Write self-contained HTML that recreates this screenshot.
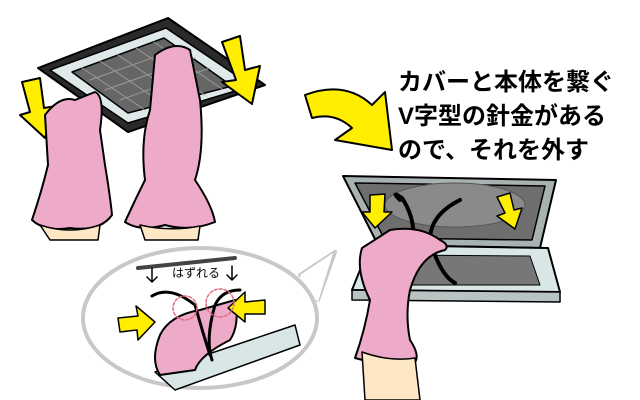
<!DOCTYPE html>
<html><head><meta charset="utf-8"><style>
body{margin:0;background:#fff;}
svg{display:block}
text{font-family:"Liberation Sans","Noto Sans CJK JP",sans-serif;}
</style></head><body>
<svg width="640" height="400" viewBox="0 0 640 400" xmlns="http://www.w3.org/2000/svg" stroke-linejoin="round" stroke-linecap="round">
<!-- top-left panel -->
<polygon points="38,68 168,18 265,85 128,132" fill="#2a2a2a" stroke="#000" stroke-width="2"/>
<polygon points="50,70 166,28 252,86 128,123" fill="#dfe9ea" stroke="#000" stroke-width="1.5"/>
<polygon points="72,72 164,38 232,86 128,113" fill="#666" stroke="#000" stroke-width="1.5"/>
<g stroke="#9a9a9a" stroke-width="1">
<line x1="82" y1="68" x2="145" y2="110"/><line x1="100" y1="61" x2="165" y2="105"/><line x1="118" y1="55" x2="185" y2="100"/><line x1="136" y1="48" x2="205" y2="95"/><line x1="154" y1="42" x2="222" y2="89"/>
<line x1="90" y1="80" x2="180" y2="48"/><line x1="105" y1="90" x2="195" y2="58"/><line x1="120" y1="100" x2="210" y2="68"/>
</g>
<!-- yellow arrows top-left -->
<polygon points="22,82 40,78 44,108 56,106 45,138 20,115 30,112" fill="#ffee00" stroke="#000" stroke-width="2"/>
<polygon points="222,42 240,36 245,70 260,66 252,104 222,82 236,80" fill="#ffee00" stroke="#000" stroke-width="2"/>
<!-- left glove -->
<path d="M45,115 Q60,95 75,100 L95,92 Q105,96 100,130 L105,165 Q110,195 112,215 Q100,232 70,228 Q45,232 32,220 Q42,190 48,165 Z" fill="#eeaac9" stroke="#000" stroke-width="2"/>
<path d="M40,225 Q70,235 100,225 L98,240 L50,240 Z" fill="#fde7c4" stroke="#000" stroke-width="1.5"/>
<!-- right glove -->
<path d="M155,55 Q175,40 190,50 L200,100 Q205,150 195,180 Q212,205 215,222 Q190,232 165,225 Q140,232 125,222 Q135,200 145,180 Q140,140 150,110 Z" fill="#eeaac9" stroke="#000" stroke-width="2"/>
<path d="M140,225 Q170,232 200,226 L198,240 L145,240 Z" fill="#fde7c4" stroke="#000" stroke-width="1.5"/>
<!-- big curved arrow -->
<path d="M305,95 Q345,80 372,105 L385,92 L392,150 L335,140 L352,128 Q335,112 312,118 Z" fill="#ffee00" stroke="#000" stroke-width="2"/>
<!-- text -->
<text x="398" y="90" font-size="24" font-weight="bold" fill="#000">カバーと本体を繋ぐ</text>
<text x="398" y="124" font-size="24" font-weight="bold" fill="#000">V字型の針金がある</text>
<text x="398" y="158" font-size="24" font-weight="bold" fill="#000">ので、それを外す</text>
<!-- right box -->
<polygon points="343,176 556,180 540,248 378,245" fill="#a8b2b2" stroke="#000" stroke-width="2"/>
<polygon points="355,183 545,186 532,240 384,238" fill="#6e6e6e" stroke="#000" stroke-width="1.5"/>
<ellipse cx="455" cy="205" rx="70" ry="22" fill="#8a8a8a" stroke="#555"/>
<polygon points="370,245 548,248 560,292 352,290" fill="#d8e6e6" stroke="#000" stroke-width="2"/>
<polygon points="400,255 530,256 540,285 390,285" fill="#777" stroke="#000" stroke-width="1"/>
<polygon points="352,290 560,292 560,302 352,300" fill="#b8c4c4" stroke="#000" stroke-width="1.5"/>
<polygon points="370,195 385,194 384,212 392,212 375,228 362,212 370,212" fill="#ffee00" stroke="#000" stroke-width="1.5"/>
<polygon points="497,197 510,193 514,210 522,208 515,229 497,216 505,213" fill="#ffee00" stroke="#000" stroke-width="1.5"/>
<path d="M400,200 Q390,190 402,198 Q420,225 410,260 M460,200 Q430,215 430,240 Q440,275 455,283" fill="none" stroke="#000" stroke-width="4"/>
<!-- right hand -->
<path d="M390,230 Q420,225 440,240 Q450,245 445,250 Q420,255 410,290 Q405,315 410,340 Q420,355 415,362 Q390,368 355,358 Q365,330 370,300 Q355,270 362,248 Z" fill="#eeaac9" stroke="#000" stroke-width="2"/>
<path d="M362,352 Q390,362 415,358 L420,400 L365,400 Z" fill="#fde7c4" stroke="#000" stroke-width="1.5"/>
<!-- speech bubble -->
<path d="M300,275 L335,252 L318,300" fill="#fff" stroke="#c8c8c8" stroke-width="4"/>
<ellipse cx="200" cy="318" rx="117" ry="70" fill="#fff" stroke="#c8c8c8" stroke-width="4"/>
<path d="M300,275 L333,253 L318,302" fill="#fff" stroke="none"/>
<line x1="138" y1="268" x2="235" y2="258" stroke="#444" stroke-width="4"/>
<polygon points="155,372 295,325 300,345 175,390" fill="#d8e6e6" stroke="#000" stroke-width="1.5"/>
<path d="M160,335 Q170,315 200,310 L235,300 Q240,325 230,340 Q200,355 195,370 L160,375 Q150,360 160,335 Z" fill="#eeaac9" stroke="#000" stroke-width="2"/>
<polygon points="118,318 138,316 136,306 155,322 138,340 137,330 120,332" fill="#ffee00" stroke="#000" stroke-width="1.5"/>
<polygon points="265,300 245,302 245,292 228,308 245,322 245,314 265,314" fill="#ffee00" stroke="#000" stroke-width="1.5"/>
<path d="M152,296 Q170,285 195,305 Q205,340 210,355 M240,290 Q222,290 215,305 Q205,340 212,360" fill="none" stroke="#000" stroke-width="3"/>
<circle cx="185" cy="308" r="12" fill="none" stroke="#e07080" stroke-width="1.5" stroke-dasharray="3,2"/>
<circle cx="220" cy="303" r="14" fill="none" stroke="#e07080" stroke-width="1.5" stroke-dasharray="3,2"/>
<text x="172" y="277" font-size="12" fill="#000">はずれる</text>
<path d="M152,268 L152,282 M147,277 L152,282 L157,277 M232,266 L232,280 M227,275 L232,280 L237,275" fill="none" stroke="#000" stroke-width="1.5"/>
</svg>
</body></html>
